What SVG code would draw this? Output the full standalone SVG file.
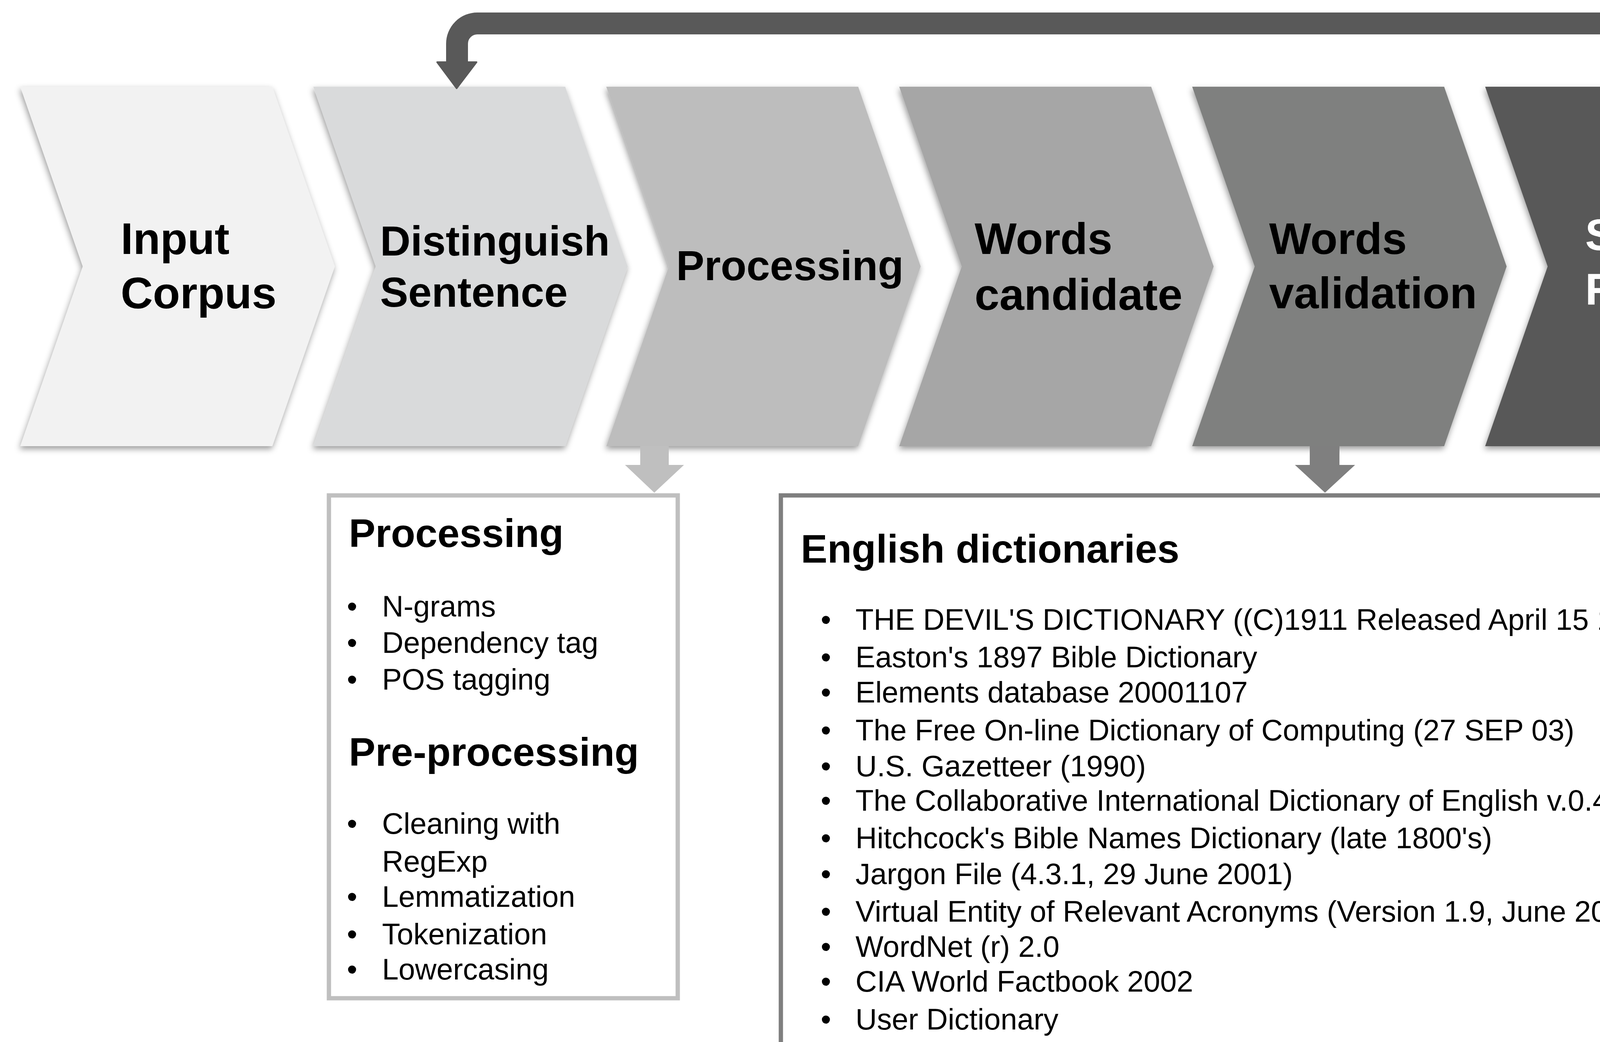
<svg xmlns="http://www.w3.org/2000/svg" width="4591" height="2667" viewBox="0 0 4591 2667" overflow="hidden" style="overflow:hidden">
  <defs>
    <filter id="shadow" x="-5%" y="-5%" width="110%" height="115%">
      <feDropShadow dx="-2" dy="7" stdDeviation="8" flood-color="#000" flood-opacity="0.4"/>
    </filter>
    <clipPath id="page"><rect x="0" y="0" width="4591" height="2667"/></clipPath>
    <polygon id="chev" points="0,222 645,222 805,682 645,1142 0,1142 160,682"/>
  </defs>
  <style>
    .title { font-family: "Liberation Sans", Arial, Helvetica, sans-serif; font-weight: bold; fill: #000; }
    .t114 { font-size: 114px; }
    .t108 { font-size: 108px; }
    .white { fill: #fff; }
    .head { font-family: "Liberation Sans", Arial, Helvetica, sans-serif; font-weight: bold; font-size: 102px; fill: #000; }
    .item { font-family: "Liberation Sans", Arial, Helvetica, sans-serif; font-size: 76px; fill: #000; }
    .box1 { fill: #fff; stroke: #bfbfbf; stroke-width: 11; }
    .box2 { fill: #fff; stroke: #7f7f7f; stroke-width: 11; }
  </style>
  <rect width="4591" height="2667" fill="#fff"/>
  <g clip-path="url(#page)">
  <g id="node-input-corpus">
    <use href="#chev" x="52" fill="#f2f2f2" filter="url(#shadow)"/>
    <text class="title t114" x="309" y="650">Input</text>
    <text class="title t114" x="309" y="789">Corpus</text>
  </g>
  <g id="node-distinguish-sentence">
    <use href="#chev" x="802" fill="#d9dadb" filter="url(#shadow)"/>
    <text class="title t108" x="973" y="654">Distinguish</text>
    <text class="title t108" x="973" y="785">Sentence</text>
  </g>
  <g id="node-processing">
    <use href="#chev" x="1552" fill="#bdbdbd" filter="url(#shadow)"/>
    <text class="title t108" x="1731" y="717">Processing</text>
  </g>
  <g id="node-words-candidate">
    <use href="#chev" x="2302" fill="#a6a6a6" filter="url(#shadow)"/>
    <text class="title t114" x="2495" y="650">Words</text>
    <text class="title t114" x="2495" y="793">candidate</text>
  </g>
  <g id="node-words-validation">
    <use href="#chev" x="3052" fill="#7f807f" filter="url(#shadow)"/>
    <text class="title t114" x="3249" y="650">Words</text>
    <text class="title t114" x="3249" y="789">validation</text>
  </g>
  <g id="node-storing-results">
    <polygon points="3802,222 4447,222 4591,634 4591,730 4447,1142 3802,1142 3962,682" fill="#595959" filter="url(#shadow)"/>
    <text class="title t114 white" x="4058" y="640">Storing</text>
    <text class="title t114 white" x="4058" y="780">Results</text>
  </g>

  <g id="connectors">
    <path d="M4154,224 V112 A52,52 0 0 0 4102,60 H1222 A52,52 0 0 0 1170,112 V162" fill="none" stroke="#595959" stroke-width="56"/>
    <polygon points="1119,159 1220,159 1169,226" fill="#595959" stroke="#595959" stroke-width="4" stroke-linejoin="round"/>
    <polygon points="1639,1142 1712,1142 1712,1190 1751,1190 1675,1261 1600,1190 1639,1190" fill="#bfbfbf"/>
    <polygon points="3353,1142 3429,1142 3429,1190 3469,1190 3392,1261 3315,1190 3353,1190" fill="#7f7f7f"/>
  </g>

  <g id="node-processing-box">
    <rect class="box1" x="842" y="1268" width="893" height="1287"/>
    <text class="head" x="893" y="1400">Processing</text>
    <text class="item" x="888" y="1578">•</text><text class="item" x="978" y="1578">N-grams</text>
    <text class="item" x="888" y="1671">•</text><text class="item" x="978" y="1671">Dependency tag</text>
    <text class="item" x="888" y="1765">•</text><text class="item" x="978" y="1765">POS tagging</text>
    <text class="head" x="893" y="1960">Pre-processing</text>
    <text class="item" x="888" y="2134">•</text><text class="item" x="978" y="2134">Cleaning with</text>
    <text class="item" x="978" y="2231">RegExp</text>
    <text class="item" x="888" y="2321">•</text><text class="item" x="978" y="2321">Lemmatization</text>
    <text class="item" x="888" y="2417">•</text><text class="item" x="978" y="2417">Tokenization</text>
    <text class="item" x="888" y="2507">•</text><text class="item" x="978" y="2507">Lowercasing</text>
  </g>

  <g id="node-english-dictionaries">
    <path class="box2" d="M1999,2667 V1268 H4428 V2667"/>
    <text class="head" x="2050" y="1440">English dictionaries</text>
    <text class="item" x="2101" y="1612">•</text><text class="item" x="2190" y="1612">THE DEVIL'S DICTIONARY ((C)1911 Released April 15 1993)</text>
    <text class="item" x="2101" y="1708">•</text><text class="item" x="2190" y="1708">Easton's 1897 Bible Dictionary</text>
    <text class="item" x="2101" y="1798">•</text><text class="item" x="2190" y="1798">Elements database 20001107</text>
    <text class="item" x="2101" y="1895">•</text><text class="item" x="2190" y="1895">The Free On-line Dictionary of Computing (27 SEP 03)</text>
    <text class="item" x="2101" y="1987">•</text><text class="item" x="2190" y="1987">U.S. Gazetteer (1990)</text>
    <text class="item" x="2101" y="2075">•</text><text class="item" x="2190" y="2075">The Collaborative International Dictionary of English v.0.44</text>
    <text class="item" x="2101" y="2171">•</text><text class="item" x="2190" y="2171">Hitchcock's Bible Names Dictionary (late 1800's)</text>
    <text class="item" x="2101" y="2263">•</text><text class="item" x="2190" y="2263">Jargon File (4.3.1, 29 June 2001)</text>
    <text class="item" x="2101" y="2359">•</text><text class="item" x="2190" y="2359">Virtual Entity of Relevant Acronyms (Version 1.9, June 2002)</text>
    <text class="item" x="2101" y="2449">•</text><text class="item" x="2190" y="2449">WordNet (r) 2.0</text>
    <text class="item" x="2101" y="2538">•</text><text class="item" x="2190" y="2538">CIA World Factbook 2002</text>
    <text class="item" x="2101" y="2635">•</text><text class="item" x="2190" y="2635">User Dictionary</text>
  </g>
  </g>
</svg>
